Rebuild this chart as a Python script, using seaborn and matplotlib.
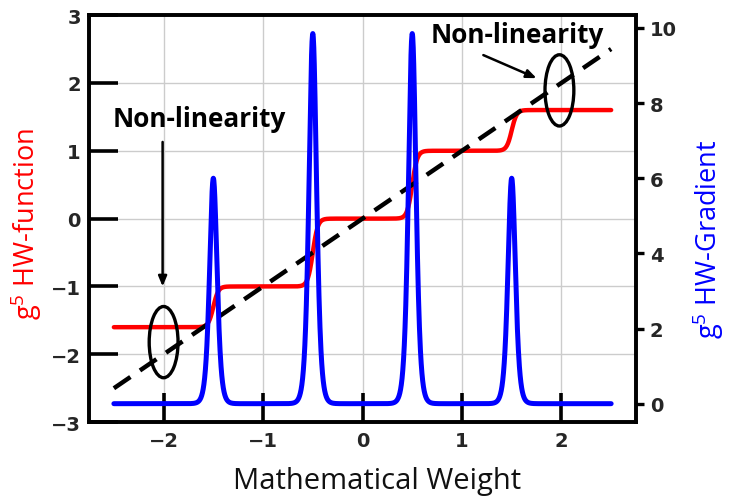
import numpy as np
import pandas as pd
import seaborn as sns
import matplotlib
matplotlib.use("Agg")
import matplotlib.pyplot as plt
from matplotlib.patches import Ellipse

# Staircase model: level before the first step, step centres, step heights,
# and the peak value of the gradient at each step
base_level = -1.6
step_centers = [-1.5, -0.5, 0.5, 1.5]
step_sizes = [0.6, 1.0, 1.0, 0.6]
gradient_peaks = [6.0, 9.85, 9.85, 6.0]

# Ideal linear reference (dashed)
linear_x = [-2.5, 2.5]
linear_y = [-2.5, 2.5]

# Highlighted non-linear regions: (x, y) centres, widths, heights
ellipse_x = [-2.0, 1.98]
ellipse_y = [-1.82, 1.89]
ellipse_w = [0.29, 0.29]
ellipse_h = [1.05, 1.05]

x_ticks = [-2, -1, 0, 1, 2]
left_ticks = [-3, -2, -1, 0, 1, 2, 3]
right_ticks = [0, 2, 4, 6, 8, 10]

# Evaluate the sigmoid staircase and its derivative
w = np.linspace(-2.5, 2.5, 2001)
func = np.full_like(w, base_level)
grad = np.zeros_like(w)
for c, h, p in zip(step_centers, step_sizes, gradient_peaks):
    k = 4.0 * p / h
    s = 1.0 / (1.0 + np.exp(-k * (w - c)))
    func += h * s
    grad += h * k * s * (1.0 - s)

df = pd.DataFrame({"w": w, "func": func, "grad": grad})
df_lin = pd.DataFrame({"w": linear_x, "y": linear_y})

sns.set_style("white")
plt.rcParams["font.family"] = ["DejaVu Sans"]

fig = plt.figure(figsize=(7.5, 5.02), dpi=100)
ax = fig.add_axes([0.1187, 0.157, 0.7293, 0.811])
ax2 = ax.twinx()

sns.lineplot(data=df, x="w", y="func", ax=ax, color="#ff0000", lw=3.2, zorder=3)
sns.lineplot(data=df_lin, x="w", y="y", ax=ax, color="black", lw=3.2,
             dashes=False, zorder=4).lines[-1].set_dashes([4.5, 2.6])
sns.lineplot(data=df, x="w", y="grad", ax=ax2, color="#0000ff", lw=3.6, zorder=3)

ax.set_xlim(-2.75, 2.75)
ax.set_ylim(-3, 3)
ax2.set_ylim(-0.4925, 10.3425)

ax.set_xticks(x_ticks)
ax.set_yticks(left_ticks)
ax2.set_yticks(right_ticks)
ax.set_xticklabels([f"{t}".replace("-", "\u2212") for t in x_ticks])
ax.set_yticklabels([f"{t}".replace("-", "\u2212") for t in left_ticks])
ax2.set_yticklabels([str(t) for t in right_ticks])

ax.grid(True, color="#cccccc", lw=1.0, zorder=0)
ax.set_axisbelow(True)

for a in (ax, ax2):
    for sp in a.spines.values():
        sp.set_linewidth(2.6)
        sp.set_color("black")

ax.tick_params(axis="both", which="major", direction="in", length=21, width=2.6,
               color="black", labelsize=14, pad=6, bottom=True, left=True,
               top=False, right=False)
ax2.tick_params(axis="y", direction="out", length=6, width=2.4, color="black",
                labelsize=14, pad=4, right=True, left=False)
for lbl in ax.get_xticklabels() + ax.get_yticklabels() + ax2.get_yticklabels():
    lbl.set_fontweight("bold")

label_font = ["Open Sans", "DejaVu Sans"]
ax.set_xlabel("Mathematical Weight", fontsize=21, family=label_font, color="#111111")
ax.set_ylabel(r"g$^{\mathregular{5}}$ HW-function", fontsize=19.5, family=label_font,
              color="#ff0000")
ax2.set_ylabel(r"g$^{\mathregular{5}}$ HW-Gradient", fontsize=19.5, family=label_font,
               color="#0000ff", rotation=90)
ax.xaxis.set_label_coords(0.527, -0.108)
ax.yaxis.set_label_coords(-0.082, 0.49)
ax2.yaxis.set_label_coords(1.10, 0.452)

for cx, cy, ew, eh in zip(ellipse_x, ellipse_y, ellipse_w, ellipse_h):
    ax.add_patch(Ellipse((cx, cy), ew, eh, fill=False, ec="black", lw=2.4, zorder=6))

ann_font = dict(fontsize=18.8, fontweight="bold", family=label_font, color="black")
ax.text(-1.64, 1.37, "Non-linearity", ha="center", va="baseline", zorder=7, **ann_font)
ax.text(1.56, 2.60, "Non-linearity", ha="center", va="baseline", zorder=7, **ann_font)

arrow = dict(arrowstyle="-|>,head_length=0.6,head_width=0.25", color="black", lw=1.8,
             shrinkA=0, shrinkB=0)
ax.annotate("", xy=(-2.01, -1.0), xytext=(-2.01, 1.13), arrowprops=arrow, zorder=7)
ax.annotate("", xy=(1.75, 2.07), xytext=(1.215, 2.41), arrowprops=arrow, zorder=7)

fig.savefig("out.png", dpi=100)
